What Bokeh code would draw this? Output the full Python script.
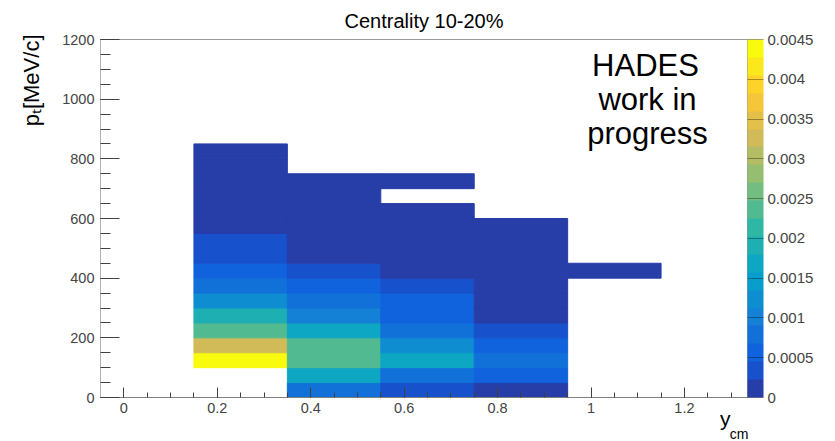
from bokeh.plotting import figure
from bokeh.models import (ColumnDataSource, LinearColorMapper, ColorBar, FixedTicker,
                          CustomJSTickFormatter, Label, Range1d, Title)
from bokeh.embed import file_html
from bokeh.resources import INLINE

# ---------------- data ----------------
title_text = "Centrality 10-20%"
x_label = ("y", "cm")
y_label = "p\u209c[MeV/c]"
ycm_bin_low = [0.15, 0.35, 0.55, 0.75, 0.95]
ycm_bin_width = 0.2
pt_bin_width = 50
# values per y_cm column, pt bins starting at 0 MeV/c (None = empty bin)
col_015_035 = [None, None, 0.0044, 0.0033, 0.0024, 0.0019, 0.0012, 0.0008, 0.00055,
               0.0003, 0.0003, 0.00018, 0.00015, 0.00012, 0.0001, 0.00008, 0.00005]
col_035_055 = [0.0008, 0.0017, 0.0024, 0.00245, 0.0017, 0.001, 0.0008, 0.00055, 0.0003,
               0.00016, 0.00014, 0.00012, 0.0001, 0.00008, 0.00005]
col_055_075 = [0.0003, 0.0008, 0.0017, 0.0012, 0.0008, 0.00055, 0.0005, 0.0003,
               0.00018, 0.00015, 0.00012, 0.0001, 0.00006, None, 0.00004]
col_075_095 = [0.0002, 0.00055, 0.0008, 0.00055, 0.0003,
               0.00018, 0.00016, 0.00014, 0.00012, 0.0001, 0.00008, 0.00005]
col_095_115 = [None, None, None, None, None, None, None, None, 0.00005]
columns = [col_015_035, col_035_055, col_055_075, col_075_095, col_095_115]

x_ticks = [0, 0.2, 0.4, 0.6, 0.8, 1.0, 1.2]
y_ticks = [0, 200, 400, 600, 800, 1000, 1200]
z_ticks = [0, 0.0005, 0.001, 0.0015, 0.002, 0.0025, 0.003, 0.0035, 0.004, 0.0045]
z_max = 0.0045

# ---------------- ROOT kBird palette, 20 contours ----------------
stops = [0.0, 0.125, 0.25, 0.375, 0.5, 0.625, 0.75, 0.875, 1.0]
red = [0.2082, 0.0592, 0.0780, 0.0232, 0.1802, 0.5301, 0.8186, 0.9956, 0.9764]
green = [0.1664, 0.3599, 0.5041, 0.6419, 0.7178, 0.7492, 0.7328, 0.7862, 0.9832]
blue = [0.5293, 0.8684, 0.8385, 0.7914, 0.6425, 0.4662, 0.3499, 0.1968, 0.0539]


def bird(t):
    for k in range(1, len(stops)):
        if t <= stops[k]:
            f = (t - stops[k - 1]) / (stops[k] - stops[k - 1])
            c = [a[k - 1] + f * (a[k] - a[k - 1]) for a in (red, green, blue)]
            return "#%02x%02x%02x" % tuple(int(round(v * 255)) for v in c)
    return "#f9fb0e"


ncont = 20
palette = [bird(int((i + 0.99) * 255 / ncont) / 254.0) for i in range(ncont)]

# ---------------- build cells ----------------
left, right, bottom, top, val = [], [], [], [], []
for xlo, col in zip(ycm_bin_low, columns):
    for j, v in enumerate(col):
        if v is None:
            continue
        left.append(xlo)
        right.append(xlo + ycm_bin_width)
        bottom.append(j * pt_bin_width)
        top.append((j + 1) * pt_bin_width)
        val.append(v)
src = ColumnDataSource(dict(left=left, right=right, bottom=bottom, top=top, value=val))

FONT = "Liberation Sans"

p = figure(width=835, height=441, x_range=Range1d(-0.05, 1.335), y_range=Range1d(0, 1200),
           output_backend="svg", toolbar_location=None,
           min_border_left=100, min_border_right=88, min_border_top=38, min_border_bottom=43)
p.title.visible = False
p.xgrid.visible = False
p.ygrid.visible = False
p.outline_line_color = "#999999"

mapper = LinearColorMapper(palette=palette, low=0, high=z_max)
p.quad(left="left", right="right", bottom="bottom", top="top", source=src,
       fill_color={"field": "value", "transform": mapper},
       line_color={"field": "value", "transform": mapper}, line_width=1)

fmt = CustomJSTickFormatter(code="return String(Number(tick.toPrecision(6)));")

xa = p.xaxis[0]
xa.ticker = FixedTicker(ticks=x_ticks,
                        minor_ticks=[round(-0.05 + 0.05 * i, 2) for i in range(28)])
xa.formatter = fmt
xa.major_tick_in = 10
xa.major_tick_out = 0
xa.minor_tick_in = 5
xa.minor_tick_out = 0
xa.axis_line_color = "#808080"
xa.major_tick_line_color = "#404040"
xa.minor_tick_line_color = "#404040"
xa.major_label_text_font = FONT
xa.major_label_text_font_size = "14.5px"
xa.major_label_standoff = 5

ya = p.yaxis[0]
ya.ticker = FixedTicker(ticks=y_ticks, minor_ticks=list(range(0, 1201, 50)))
ya.formatter = fmt
ya.major_tick_in = 19
ya.major_tick_out = 0
ya.minor_tick_in = 10
ya.minor_tick_out = 0
ya.axis_line_color = "#b0b0b0"
ya.major_tick_line_color = "#404040"
ya.minor_tick_line_color = "#404040"
ya.major_label_text_font = FONT
ya.major_label_text_font_size = "14.5px"
ya.major_label_standoff = 6

cb = ColorBar(color_mapper=mapper, ticker=FixedTicker(ticks=z_ticks), formatter=fmt,
              width=16, padding=0, margin=10, major_tick_in=16, major_tick_out=0,
              major_tick_line_color="black", major_tick_line_alpha=0.35,
              minor_tick_line_color=None, bar_line_color=None, border_line_color=None,
              background_fill_alpha=0, label_standoff=4,
              major_label_text_font=FONT, major_label_text_font_size="15px")
p.add_layout(cb, "right")


def title(text, side, size, align, offset, valign, standoff):
    p.add_layout(Title(text=text, align=align, offset=offset, vertical_align=valign,
                       standoff=standoff, text_font=FONT, text_font_size=size,
                       text_font_style="normal", text_color="black"), side)


title(title_text, "above", "20px", "center", 0, "bottom", 15)
title(y_label, "left", "22px", "right", -5, "bottom", 32)
title(x_label[0], "below", "21px", "right", 17, "top", -17)
title(x_label[1], "below", "14px", "right", -1, "bottom", 0)


def lab(text, x, y, size):
    p.add_layout(Label(x=x, y=y, x_units="screen", y_units="screen", text=text,
                       text_font=FONT, text_font_size=size, text_align="center",
                       text_baseline="alphabetic", text_color="black"))


# inside the frame (frame-relative screen units)
lab("HADES", 545, 332, "31px")
lab("work in", 547, 298, "31px")
lab("progress", 547, 264, "31px")

open("out.html", "w").write(file_html(p, INLINE))
